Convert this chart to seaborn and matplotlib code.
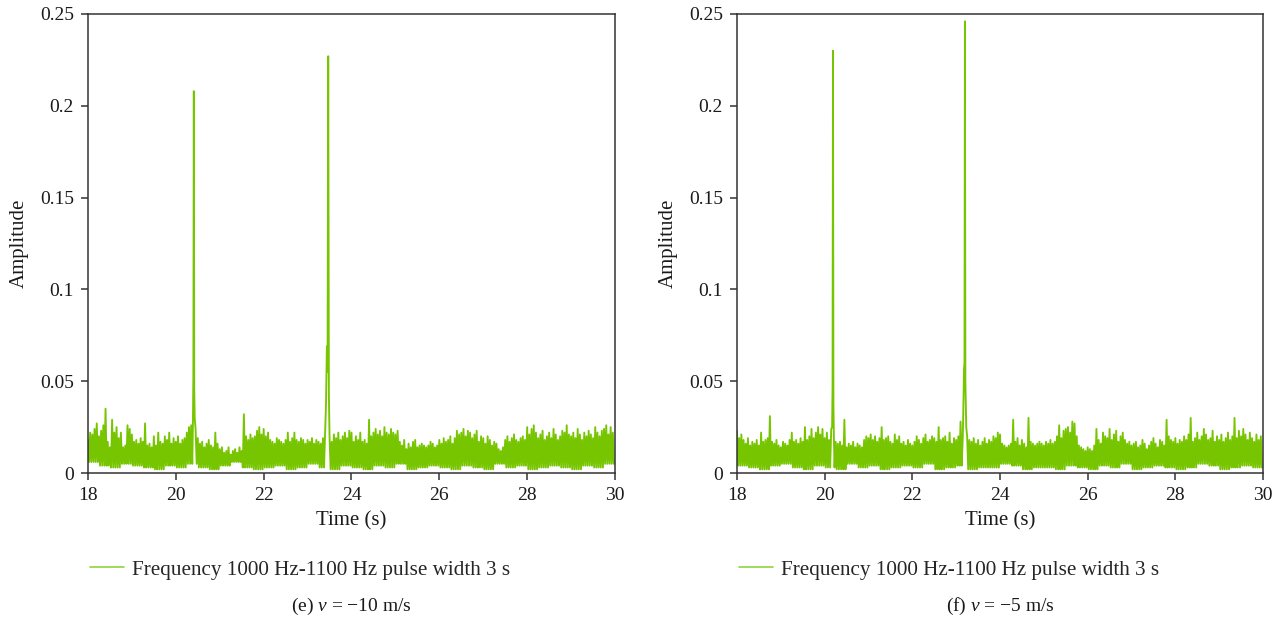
import numpy as np
import pandas as pd
import matplotlib
matplotlib.use("Agg")
import matplotlib.pyplot as plt
import seaborn as sns

# ---------------- data (amplitudes in units of 0.001) ----------------
t_start, t_step = 18.0, 0.05          # upper-envelope samples every 0.05 s
lo_step = 0.25                         # lower-envelope samples every 0.25 s

hi_e = [
    18, 22, 21, 24, 27, 20, 23, 26, 35, 17, 14, 29, 22, 25, 19, 22, 14, 15, 26, 24,
    21, 17, 18, 16, 19, 17, 27, 15, 16, 14, 20, 15, 22, 17, 16, 20, 18, 22, 16, 19,
    17, 20, 16, 18, 19, 22, 25, 26, 30, 24, 19, 16, 17, 14, 16, 18, 15, 14, 22, 16,
    13, 14, 11, 12, 14, 10, 12, 13, 11, 14, 12, 32, 20, 18, 21, 19, 20, 23, 25, 21,
    24, 20, 22, 18, 17, 16, 19, 18, 17, 16, 18, 22, 17, 19, 22, 18, 17, 19, 18, 16,
    18, 17, 19, 16, 18, 17, 16, 19, 22, 21, 20, 17, 21, 19, 22, 18, 20, 22, 19, 23,
    22, 17, 20, 18, 22, 17, 18, 16, 29, 20, 22, 24, 21, 23, 20, 25, 22, 21, 24, 22,
    21, 23, 17, 15, 18, 13, 16, 14, 17, 18, 14, 15, 16, 15, 14, 15, 17, 16, 14, 15,
    18, 16, 19, 17, 18, 20, 16, 19, 23, 21, 22, 24, 20, 23, 22, 19, 21, 23, 17, 20,
    19, 16, 20, 18, 15, 17, 16, 13, 12, 14, 18, 20, 17, 19, 21, 18, 17, 19, 20, 18,
    25, 21, 24, 26, 22, 19, 21, 23, 18, 20, 22, 19, 24, 21, 18, 20, 23, 22, 26, 21,
    20, 22, 19, 24, 21, 18, 22, 20, 23, 21, 19, 25, 22, 20, 23, 24, 26, 21, 25, 22,
]
lo_e = [6, 4, 3, 5, 4, 3, 2, 4, 3, 5, 3, 2, 4, 6, 3, 2, 3, 4, 2, 3, 5, 3, 2, 4,
        3, 2, 4, 3, 5, 2, 3, 4, 3, 2, 4, 3, 2, 5, 3, 4, 2, 3, 4, 3, 2, 4, 3, 5]
peak_t_e = [20.39, 20.40, 20.41, 20.42, 20.43, 23.42, 23.44, 23.455, 23.47, 23.485, 23.50]
peak_a_e = [28, 53, 208, 45, 30, 38, 69, 55, 227, 43, 20]

hi_f = [
    23, 19, 21, 18, 16, 19, 15, 17, 16, 18, 15, 22, 17, 18, 19, 31, 17, 16, 18, 15,
    14, 17, 16, 15, 18, 22, 17, 18, 16, 19, 17, 25, 18, 20, 24, 19, 22, 25, 21, 24,
    19, 22, 18, 24, 20, 17, 16, 17, 15, 29, 14, 16, 15, 17, 14, 16, 15, 14, 18, 20,
    19, 21, 18, 20, 17, 19, 25, 18, 19, 20, 17, 16, 21, 18, 20, 16, 17, 15, 18, 16,
    15, 17, 20, 18, 16, 19, 21, 17, 18, 20, 19, 17, 25, 18, 19, 20, 17, 22, 16, 19,
    18, 20, 28, 19, 24, 20, 18, 17, 19, 16, 18, 15, 17, 19, 16, 18, 17, 20, 19, 22,
    21, 16, 15, 14, 15, 16, 29, 17, 19, 15, 18, 16, 14, 30, 17, 16, 15, 16, 17, 16,
    15, 17, 16, 18, 16, 17, 20, 26, 19, 23, 24, 25, 22, 28, 27, 20, 15, 14, 13, 12,
    14, 13, 12, 15, 24, 18, 16, 22, 20, 19, 24, 18, 21, 23, 17, 20, 22, 18, 16, 17,
    15, 16, 17, 14, 15, 18, 16, 13, 15, 17, 19, 16, 14, 18, 17, 15, 29, 20, 18, 17,
    19, 16, 18, 17, 20, 18, 21, 30, 17, 19, 22, 18, 20, 24, 21, 18, 19, 23, 17, 20,
    18, 21, 17, 19, 22, 18, 20, 30, 19, 23, 20, 24, 21, 18, 22, 19, 17, 21, 18, 20,
]
lo_f = [4, 3, 2, 4, 5, 3, 2, 4, 3, 2, 5, 3, 4, 2, 3, 4, 3, 5, 2, 3, 4, 2, 3, 3,
        5, 4, 2, 3, 3, 2, 4, 3, 2, 4, 3, 5, 2, 3, 4, 3, 2, 3, 5, 4, 2, 3, 4, 3]
peak_t_f = [20.17, 20.18, 20.19, 20.20, 20.21, 23.16, 23.18, 23.19, 23.20, 23.21, 23.23]
peak_a_f = [25, 47, 230, 38, 20, 30, 57, 60, 246, 50, 25]

x_ticks = [18, 20, 22, 24, 26, 28, 30]
y_ticks = [0, 0.05, 0.1, 0.15, 0.2, 0.25]
y_tick_labels = ["0", "0.05", "0.1", "0.15", "0.2", "0.25"]
series_label = "Frequency 1000 Hz-1100 Hz pulse width 3 s"
captions = ["(e) $v$ = \u221210 m/s", "(f) $v$ = \u22125 m/s"]


def build_frame(hi, lo, pk_t, pk_a):
    hi = np.asarray(hi, float) / 1000.0
    lo = np.asarray(lo, float) / 1000.0
    t_hi = t_start + t_step * np.arange(len(hi))
    lo_idx = (np.arange(len(hi)) * t_step // lo_step).astype(int)
    t_lo = t_hi + t_step / 2
    t = np.concatenate([t_hi, t_lo])
    a = np.concatenate([hi, lo[lo_idx]])
    pk_t = np.asarray(pk_t)
    keep = np.ones(len(t), bool)
    # drop base points that fall inside each spike cluster
    for lo_t, hi_t in [(pk_t[0], pk_t[4]), (pk_t[5], pk_t[-1])]:
        keep &= ~((t >= lo_t) & (t <= hi_t))
    t = np.concatenate([t[keep], pk_t])
    a = np.concatenate([a[keep], np.asarray(pk_a, float) / 1000.0])
    order = np.argsort(t)
    return pd.DataFrame({"Time (s)": t[order], "Amplitude": a[order],
                         "series": series_label})


frames = [build_frame(hi_e, lo_e, peak_t_e, peak_a_e),
          build_frame(hi_f, lo_f, peak_t_f, peak_a_f)]

# ---------------- style ----------------
sns.set_theme(style="ticks")
plt.rcParams["font.family"] = ["Liberation Serif", "DejaVu Serif"]
plt.rcParams["mathtext.fontset"] = "custom"
plt.rcParams["mathtext.rm"] = "Liberation Serif"
plt.rcParams["mathtext.it"] = "Liberation Serif:italic"

green = "#76c500"
fig = plt.figure(figsize=(12.88, 6.25), dpi=100)
axes = [fig.add_axes([0.0683, 0.2432, 0.4092, 0.7344]),
        fig.add_axes([0.5722, 0.2432, 0.4084, 0.7344])]

for ax, df, cap in zip(axes, frames, captions):
    sns.lineplot(data=df, x="Time (s)", y="Amplitude", hue="series",
                 palette=[green], estimator=None, sort=False, lw=1.35, ax=ax)
    ax.set_xlim(18, 30)
    ax.set_ylim(0, 0.25)
    ax.set_xticks(x_ticks)
    ax.set_yticks(y_ticks)
    ax.set_yticklabels(y_tick_labels)
    ax.tick_params(direction="out", length=5, width=1.1, colors="#333333",
                   labelcolor="#1a1a1a", labelsize=14, pad=5)
    for s in ax.spines.values():
        s.set_color("#333333")
        s.set_linewidth(1.1)
    ax.set_xlabel("Time (s)", fontsize=15, labelpad=5, color="#1a1a1a")
    ax.set_ylabel("Amplitude", fontsize=15, labelpad=8, color="#1a1a1a")
    leg = ax.legend(loc="center left", bbox_to_anchor=(0.004, -0.211),
                    frameon=False, fontsize=15.2, handlelength=1.6,
                    handletextpad=0.4, borderpad=0, borderaxespad=0)
    for h in leg.get_lines():
        h.set_linewidth(1.2)
        h.set_color("#8ed43f")
    pos = ax.get_position()
    fig.text(pos.x0 + pos.width / 2, 0.030, cap, ha="center", va="center",
             fontsize=14, color="#1a1a1a")

fig.savefig("out.png", dpi=100)
